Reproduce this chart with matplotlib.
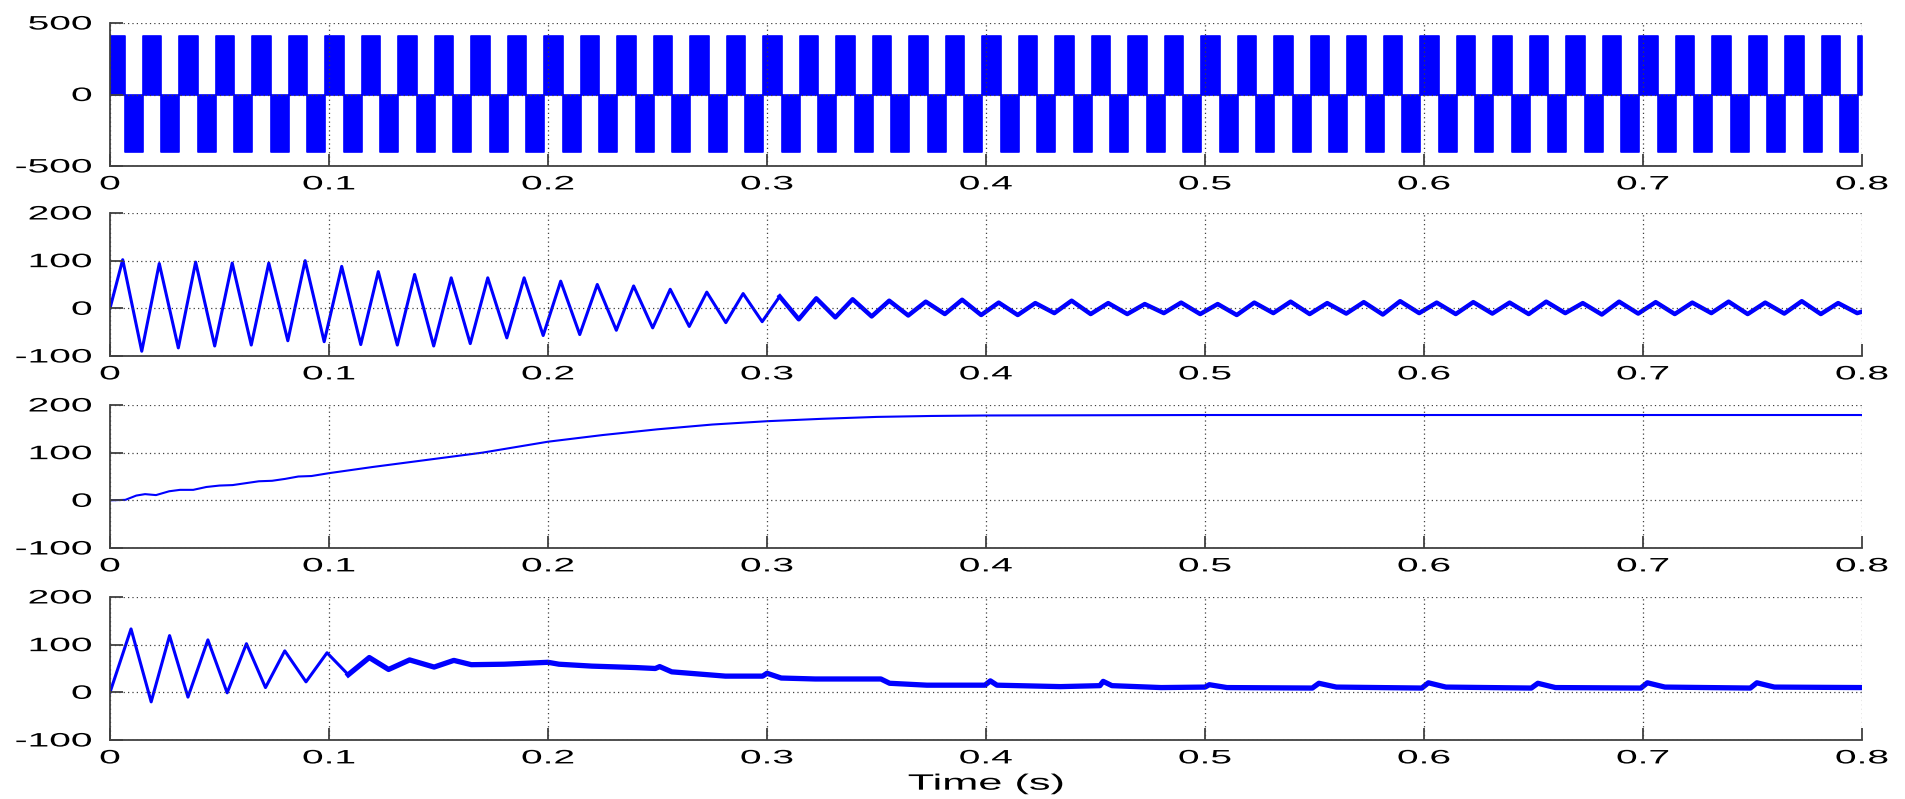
import numpy as np
import matplotlib.pyplot as plt
from matplotlib.patheffects import AbstractPathEffect
from matplotlib.transforms import Affine2D

# ---- panel 1: inverter output voltage, switching instants (s) ----
v_neg_start = [0.0068, 0.0235, 0.0401, 0.0568, 0.0735, 0.0901, 0.1068, 0.1235, 0.1401, 0.1568,
               0.1735, 0.1901, 0.2068, 0.2235, 0.2401, 0.2568, 0.2735, 0.2901, 0.3068, 0.3235,
               0.3401, 0.3568, 0.3735, 0.3901, 0.4068, 0.4235, 0.4401, 0.4568, 0.4735, 0.4901,
               0.5068, 0.5235, 0.5401, 0.5568, 0.5735, 0.5901, 0.6068, 0.6235, 0.6401, 0.6568,
               0.6735, 0.6901, 0.7068, 0.7235, 0.7401, 0.7568, 0.7735, 0.7901]
v_pos_start = [0.0150, 0.0317, 0.0483, 0.0650, 0.0817, 0.0983, 0.1150, 0.1317, 0.1483, 0.1650,
               0.1817, 0.1983, 0.2150, 0.2317, 0.2483, 0.2650, 0.2817, 0.2983, 0.3150, 0.3317,
               0.3483, 0.3650, 0.3817, 0.3983, 0.4150, 0.4317, 0.4483, 0.4650, 0.4817, 0.4983,
               0.5150, 0.5317, 0.5483, 0.5650, 0.5817, 0.5983, 0.6150, 0.6317, 0.6483, 0.6650,
               0.6817, 0.6983, 0.7150, 0.7317, 0.7483, 0.7650, 0.7817, 0.7983]
v_high = 410
v_low = -405

# ---- panel 2: stator current, peaks and troughs ----
i_peak_t = [0.0058, 0.0225, 0.0391, 0.0558, 0.0725, 0.0891, 0.1058, 0.1225, 0.1391, 0.1558,
            0.1725, 0.1891, 0.2058, 0.2225, 0.2391, 0.2558, 0.2725, 0.2891, 0.3058, 0.3225,
            0.3391, 0.3558, 0.3725, 0.3891, 0.4058, 0.4225, 0.4391, 0.4558, 0.4725, 0.4891,
            0.5058, 0.5225, 0.5391, 0.5558, 0.5725, 0.5891, 0.6058, 0.6225, 0.6391, 0.6558,
            0.6725, 0.6891, 0.7058, 0.7225, 0.7391, 0.7558, 0.7725, 0.7891]
i_peak_v = [102, 94, 97, 95, 95, 100, 88, 77, 71, 64,
            64, 64, 57, 50, 47, 40, 34, 31, 25, 21,
            19, 16, 14, 18, 12, 11, 16, 11, 9, 12,
            9, 12, 14, 11, 13, 15, 12, 13, 12, 14,
            11, 14, 13, 12, 14, 12, 15, 11]
i_trough_t = [0.0145, 0.0312, 0.0478, 0.0645, 0.0812, 0.0978, 0.1145, 0.1312, 0.1478, 0.1645,
              0.1812, 0.1978, 0.2145, 0.2312, 0.2478, 0.2645, 0.2812, 0.2978, 0.3145, 0.3312,
              0.3478, 0.3645, 0.3812, 0.3978, 0.4145, 0.4312, 0.4478, 0.4645, 0.4812, 0.4978,
              0.5145, 0.5312, 0.5478, 0.5645, 0.5812, 0.5978, 0.6145, 0.6312, 0.6478, 0.6645,
              0.6812, 0.6978, 0.7145, 0.7312, 0.7478, 0.7645, 0.7812, 0.7978]
i_trough_v = [-90, -83, -79, -77, -68, -70, -76, -77, -79, -74,
              -62, -57, -55, -46, -41, -38, -30, -28, -23, -19,
              -17, -15, -12, -14, -14, -10, -12, -12, -10, -12,
              -14, -10, -12, -11, -13, -10, -12, -11, -12, -10,
              -13, -11, -12, -10, -12, -11, -12, -10]

# ---- panel 3: rotor speed ----
w_t = [0, 0.007, 0.012, 0.016, 0.021, 0.027, 0.032, 0.038, 0.044, 0.05, 0.056, 0.062,
       0.068, 0.074, 0.08, 0.086, 0.092, 0.1, 0.12, 0.15, 0.17, 0.2, 0.225, 0.25, 0.275,
       0.3, 0.325, 0.35, 0.375, 0.4, 0.5, 0.6, 0.7, 0.8]
w_v = [0, 1, 10, 13, 11, 19, 22, 22, 28, 31, 32, 36,
       40, 41, 45, 50, 51, 57, 70, 88, 100, 123, 137, 149, 159,
       166, 171, 175, 177, 178, 179, 179, 179, 179]

# ---- panel 4: electromagnetic torque ----
T_t = [0, 0.0096, 0.0188, 0.0272, 0.0356, 0.0447, 0.0535, 0.0623, 0.071, 0.0798,
       0.0895, 0.0991, 0.1088, 0.1184, 0.1272, 0.1368, 0.148, 0.157, 0.165, 0.18,
       0.2, 0.205, 0.22, 0.24, 0.249, 0.251, 0.2565, 0.281, 0.298, 0.3,
       0.3065, 0.322, 0.352, 0.356, 0.373, 0.3995, 0.402, 0.405, 0.434, 0.452,
       0.4535, 0.4575, 0.48, 0.5, 0.502, 0.51, 0.549, 0.552, 0.56, 0.599,
       0.602, 0.61, 0.649, 0.652, 0.66, 0.699, 0.702, 0.71, 0.749, 0.752,
       0.76, 0.8]
T_v = [0, 133, -20, 119, -10, 110, -1, 102, 10, 87,
       22, 83, 37, 73, 48, 68, 53, 67, 58, 59,
       63, 59, 55, 52, 50, 54, 43, 34, 34, 40,
       30, 28, 28, 19, 15, 15, 24, 15, 12, 14,
       23, 14, 10, 11, 16, 10, 9, 19, 11, 9,
       20, 11, 9, 19, 10, 9, 20, 11, 9, 20,
       11, 10]

x_ticklabels = ['0', '0.1', '0.2', '0.3', '0.4', '0.5', '0.6', '0.7', '0.8']


class Stretch(AbstractPathEffect):
    """draw text glyphs stretched horizontally (the source figure was resized)"""
    def __init__(self, sx, anchor='center'):
        super().__init__()
        self.sx = sx
        self.anchor = anchor

    def draw_path(self, renderer, gc, tpath, affine, rgbFace=None):
        ext = tpath.get_extents()
        a = ext.x1 if self.anchor == 'right' else 0.5 * (ext.x0 + ext.x1)
        t = Affine2D().translate(-a, 0).scale(self.sx, 1).translate(a, 0)
        renderer.draw_path(gc, tpath.transformed(t), affine, rgbFace)


# build the square-wave step sequence
edges = sorted([(0.0, v_high)] + [(t, v_low) for t in v_neg_start] + [(t, v_high) for t in v_pos_start])
sq_t = np.array([e[0] for e in edges] + [0.8])
sq_v = np.array([e[1] for e in edges] + [edges[-1][1]])

i_t = np.array([0.0] + [x for pair in zip(i_peak_t, i_trough_t) for x in pair] + [0.8])
i_v = np.array([0.0] + [x for pair in zip(i_peak_v, i_trough_v) for x in pair] + [-7])
w_t = np.array(w_t); w_v = np.array(w_v)
T_t = np.array(T_t); T_v = np.array(T_v)

plt.rcParams['font.family'] = ['Liberation Sans', 'DejaVu Sans']
plt.rcParams['font.size'] = 14
plt.rcParams['axes.unicode_minus'] = False

blue = (0, 0, 1)
fig = plt.figure(figsize=(19.06, 7.99), dpi=100)
W, H = 1906.0, 799.0
left, right = 110, 1862
tops = [23, 213, 405, 597]
ph = 143
axs = []
for top in tops:
    ax = fig.add_axes([left / W, (H - top - ph) / H, (right - left) / W, ph / H])
    axs.append(ax)

# panel 1
ax = axs[0]
ax.fill_between(sq_t, 0, sq_v, step='post', facecolor=blue, edgecolor=blue, linewidth=1.2)
ax.set_ylim(-500, 500)
ax.set_yticks([-500, 0, 500])

# panel 2
ax = axs[1]
ax.plot(i_t, i_v, color=blue, lw=2.2)
m = i_t >= 0.3
ax.plot(i_t[m], i_v[m], color=blue, lw=3.2)
ax.set_ylim(-100, 200)
ax.set_yticks([-100, 0, 100, 200])

# panel 3
ax = axs[2]
ax.plot(w_t, w_v, color=blue, lw=1.5)
ax.set_ylim(-100, 200)
ax.set_yticks([-100, 0, 100, 200])

# panel 4
ax = axs[3]
ax.plot(T_t, T_v, color=blue, lw=2.2)
m = T_t >= 0.1
ax.plot(T_t[m], T_v[m], color=blue, lw=3.8)
ax.set_ylim(-100, 200)
ax.set_yticks([-100, 0, 100, 200])
xl = ax.set_xlabel('Time (s)', labelpad=4.5, fontsize=16)
xl.set_path_effects([Stretch(1.95)])

xt = np.arange(0, 0.81, 0.1)
for ax in axs:
    ax.set_xlim(0, 0.8)
    ax.set_xticks(xt)
    ax.set_xticklabels(x_ticklabels)
    ax.grid(True, linestyle=(0, (1, 2.5)), color='0.25', lw=0.9)
    ax.set_axisbelow(False)
    for s in ['top', 'right']:
        ax.spines[s].set_visible(False)
    for s in ['left', 'bottom']:
        ax.spines[s].set_color('0.25')
        ax.spines[s].set_linewidth(1.3)
    ax.tick_params(direction='in', length=9, width=1.3, color='0.25')
    ax.tick_params(axis='x', pad=7.5)
    ax.tick_params(axis='y', pad=13)
    for lab in ax.get_xticklabels():
        lab.set_path_effects([Stretch(2.0)])
    for lab in ax.get_yticklabels():
        lab.set_path_effects([Stretch(2.0, anchor='right')])

plt.savefig('out.png', dpi=100)
